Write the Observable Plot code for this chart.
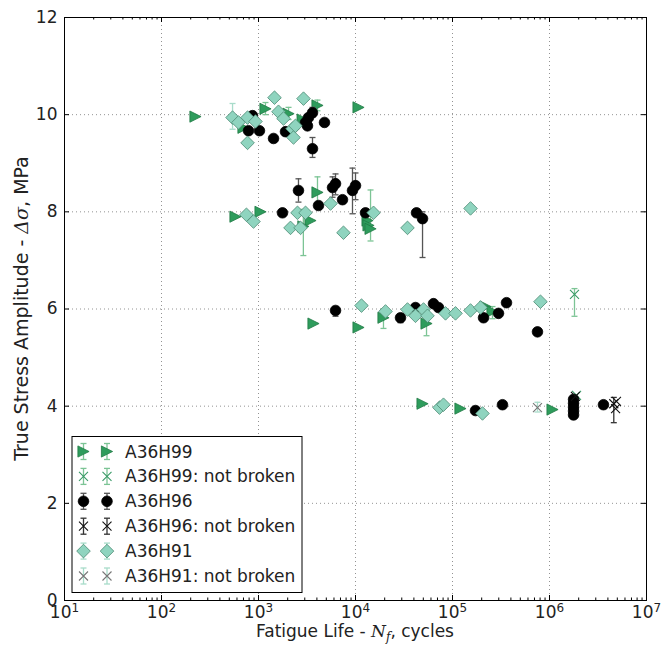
<!DOCTYPE html>
<html><head><meta charset="utf-8">
<script src="https://cdn.jsdelivr.net/npm/d3@7"></script>
<script src="https://cdn.jsdelivr.net/npm/@observablehq/plot@0.6"></script>
<style>body{margin:0;background:#fff;} #chart{position:absolute;left:0;top:0;}</style>
</head><body><div id="chart"></div>
<script>
// ---- data: [cycles N, stress amplitude, errLow, errHigh] ----
const h99 = [
  [224, 9.96], [1180, 10.12, 10.0, 10.25], [4056, 10.19, 10.08, 10.3], [10740, 10.15],
  [2040, 10.02, 9.9, 10.15], [2850, 9.9], [700, 9.73],
  [579, 7.90], [1049, 8.0], [4056, 8.40, 8.1, 8.72], [3435, 7.82], [2900, 7.7, 7.1, 8.05],
  [13300, 7.82], [13620, 7.72], [14290, 7.65, 7.4, 8.45],
  [3690, 5.70], [10740, 5.62], [19430, 5.82, 5.6, 6.0], [53970, 5.70, 5.45, 5.9],
  [219000, 6.05], [258400, 5.95, 5.8, 6.05],
  [49100, 4.05], [120800, 3.95], [1074000, 3.93]
];
const h99NotBroken = [
  [1810000, 6.30, 5.85, 6.42], [1900000, 4.22]
];
const h96 = [
  [867, 9.98], [789, 9.67], [1023, 9.67], [1429, 9.51], [1898, 9.65], [3053, 9.84],
  [3276, 9.94], [3603, 10.04, 9.95, 10.15], [3198, 9.77], [4790, 9.84], [3603, 9.30, 9.12, 9.53],
  [1767, 7.98], [2583, 8.44, 8.2, 8.68], [4155, 8.13], [5796, 8.50, 8.3, 8.72],
  [6224, 8.58, 8.35, 8.78], [7345, 8.25], [9311, 8.44, 7.96, 8.9], [10000, 8.54, 8.25, 8.8],
  [12680, 7.98], [42560, 7.98], [49100, 7.86, 7.06, 8.0],
  [6224, 5.97, 5.85, 6.05], [29100, 5.82, 5.72, 5.9], [41540, 6.03], [63680, 6.11],
  [71740, 6.03], [208900, 5.82], [298000, 5.91], [360300, 6.13], [751700, 5.53],
  [172600, 3.91], [327600, 4.03], [1770000, 3.82], [1770000, 3.90], [1770000, 3.98],
  [1770000, 4.06], [1770000, 4.14], [3600000, 4.03]
];
const h96NotBroken = [
  [1850000, 4.20], [4600000, 4.05, 3.66, 4.18], [4800000, 3.95], [4900000, 4.10]
];
const h91 = [
  [540, 9.94, 9.7, 10.23], [622, 9.84], [771, 9.94], [931, 9.86], [771, 9.42], [1462, 10.35],
  [1607, 10.06], [1811, 9.92], [2243, 9.71], [2296, 9.53], [2911, 10.33], [2405, 9.77],
  [751, 7.94], [888, 7.80], [2137, 7.67], [2523, 7.98], [3053, 7.98], [2713, 7.67],
  [5525, 8.17], [7516, 7.57], [15340, 7.98], [34360, 7.67], [153400, 8.07],
  [11530, 6.07], [20380, 5.95], [34360, 5.99], [41540, 5.86], [50260, 5.99], [55250, 5.86],
  [84730, 5.91], [107400, 5.91], [153400, 5.97], [194600, 6.03], [807000, 6.15],
  [73470, 3.97], [80750, 4.03], [203800, 3.85]
];
const h91NotBroken = [
  [751700, 3.97, 3.88, 4.08]
];
const seriesLabels = ["A36H99", "A36H99: not broken", "A36H96", "A36H96: not broken", "A36H91", "A36H91: not broken"];
const xTicks = [1e1, 1e2, 1e3, 1e4, 1e5, 1e6, 1e7];
const yTicks = [0, 2, 4, 6, 8, 10, 12];

// ---- symbols ----
const rad = s => Math.sqrt(s / Math.PI);
const triRight = {draw(c, s) { const r = rad(s); c.moveTo(r, 0); c.lineTo(-r, r); c.lineTo(-r, -r); c.closePath(); }};
const diamond = {draw(c, s) { const r = rad(s); c.moveTo(0, -r); c.lineTo(r, 0); c.lineTo(0, r); c.lineTo(-r, 0); c.closePath(); }};
const cross = {draw(c, s) { const r = rad(s); c.moveTo(-r, -r); c.lineTo(r, r); c.moveTo(-r, r); c.lineTo(r, -r); }};
const cap = {draw(c, s) { const r = rad(s); c.moveTo(-r, 0); c.lineTo(r, 0); }};

const rows = a => a.map(([N, S, lo, hi]) => ({N, S, lo, hi}));
const styles = [
  {data: rows(h99), symbol: triRight, r: 5.6, fill: "#2e9c5c", stroke: "#217a45", err: "#7cc495"},
  {data: rows(h99NotBroken), symbol: cross, r: 4.5, fill: "none", stroke: "#3a9a68", err: "#7cc495"},
  {data: rows(h96), symbol: "circle", r: 5.3, fill: "black", stroke: "black", err: "#555"},
  {data: rows(h96NotBroken), symbol: cross, r: 4.5, fill: "none", stroke: "#111", err: "#333"},
  {data: rows(h91), symbol: diamond, r: 6.8, fill: "#8fd4bf", stroke: "#4c8a74", err: "#a8dcca"},
  {data: rows(h91NotBroken), symbol: cross, r: 4.5, fill: "none", stroke: "#777", err: "#a8dcca"}
];

const W = 667, H = 649, mL = 64, mR = 21, mT = 17, mB = 49;
const pw = W - mL - mR, ph = H - mT - mB;
const xMinor = d3.range(1, 7).flatMap(k => d3.range(2, 10).map(m => m * 10 ** k));

const marks = [
  Plot.gridX(xTicks.slice(1, -1), {stroke: "#777", strokeOpacity: 1, strokeWidth: 0.8, strokeDasharray: "1,3"}),
  Plot.gridY(yTicks.slice(1, -1), {stroke: "#777", strokeOpacity: 1, strokeWidth: 0.8, strokeDasharray: "1,3"})
];
for (const s of styles) {
  const e = s.data.filter(d => d.lo != null);
  marks.push(
    Plot.ruleX(e, {x: "N", y1: "lo", y2: "hi", stroke: s.err, strokeWidth: 1.3}),
    Plot.dot(e, {x: "N", y: "lo", symbol: cap, r: 3, fill: "none", stroke: s.err, strokeWidth: 1.3}),
    Plot.dot(e, {x: "N", y: "hi", symbol: cap, r: 3, fill: "none", stroke: s.err, strokeWidth: 1.3}),
    Plot.dot(s.data, {x: "N", y: "S", symbol: s.symbol, r: s.r, fill: s.fill, stroke: s.stroke,
      strokeWidth: s.fill === "none" ? 1.1 : 0.8})
  );
}
marks.push(
  Plot.tickX(xTicks, {x: d => d, insetTop: ph - 5, stroke: "black"}),
  Plot.tickX(xTicks, {x: d => d, insetBottom: ph - 5, stroke: "black"}),
  Plot.tickX(xMinor, {x: d => d, insetTop: ph - 2.5, stroke: "black"}),
  Plot.tickX(xMinor, {x: d => d, insetBottom: ph - 2.5, stroke: "black"}),
  Plot.tickY(yTicks, {y: d => d, insetRight: pw - 5, stroke: "black"}),
  Plot.tickY(yTicks, {y: d => d, insetLeft: pw - 5, stroke: "black"}),
  Plot.frame({stroke: "black", strokeWidth: 1}),
  Plot.axisX({ticks: xTicks, tickSize: 0, tickPadding: 5, fontSize: 17, label: null,
    tickFormat: d => `10^${Math.round(Math.log10(d))}`}),
  Plot.axisY({ticks: yTicks, tickSize: 0, tickPadding: 7, fontSize: 17, label: null})
);

const svgEl = Plot.plot({
  width: W, height: H, marginLeft: mL, marginRight: mR, marginTop: mT, marginBottom: mB,
  x: {type: "log", domain: [1e1, 1e7]},
  y: {domain: [0, 12]},
  style: {fontFamily: "DejaVu Sans", fontSize: "17px", color: "#222", background: "white", overflow: "visible"},
  marks
});
document.getElementById("chart").appendChild(svgEl);
const svg = d3.select(svgEl);

// superscript exponents on x tick labels
svg.selectAll("g[aria-label='x-axis tick label'] text").each(function() {
  const t = this.textContent;
  if (!t.includes("^")) return;
  const [b, e] = t.split("^");
  const sel = d3.select(this);
  sel.selectAll("*").remove();
  sel.text(null);
  sel.append("tspan").text(b);
  sel.append("tspan").attr("dy", "-0.45em").attr("font-size", "12px").text(e);
});

// axis labels
const xl = svg.append("text").attr("x", mL + pw / 2).attr("y", 637).attr("text-anchor", "middle")
  .attr("font-family", "DejaVu Sans").attr("font-size", 17).attr("fill", "#222");
xl.append("tspan").text("Fatigue Life - ");
xl.append("tspan").attr("font-family", "DejaVu Serif").attr("font-style", "italic").text("N");
xl.append("tspan").attr("font-family", "DejaVu Serif").attr("font-style", "italic").attr("font-size", 12).attr("dy", 4).text("f");
xl.append("tspan").attr("dy", -4).text(", cycles");

const yl = svg.append("text").attr("transform", `translate(28,${mT + ph / 2}) rotate(-90)`).attr("text-anchor", "middle")
  .attr("font-family", "DejaVu Sans").attr("font-size", 19).attr("fill", "#222");
yl.append("tspan").text("True Stress Amplitude - ");
yl.append("tspan").attr("font-family", "DejaVu Serif").attr("font-style", "italic").text("Δσ");
yl.append("tspan").text(", MPa");

// legend
const lg = svg.append("g").attr("text-anchor", "start");
lg.append("rect").attr("x", 72).attr("y", 436.5).attr("width", 230).attr("height", 156)
  .attr("fill", "white").attr("stroke", "black").attr("stroke-width", 1);
seriesLabels.forEach((lab, i) => {
  const s = styles[i];
  const y = 451.5 + i * 24.9;
  for (const x of [83.5, 107]) {
    lg.append("line").attr("x1", x).attr("x2", x).attr("y1", y - 8).attr("y2", y + 8).attr("stroke", s.err).attr("stroke-width", 1.3);
    for (const yy of [y - 8, y + 8])
      lg.append("line").attr("x1", x - 3).attr("x2", x + 3).attr("y1", yy).attr("y2", yy).attr("stroke", s.err).attr("stroke-width", 1.3);
    const type = s.symbol === "circle" ? d3.symbolCircle : s.symbol;
    lg.append("path").attr("transform", `translate(${x},${y})`)
      .attr("d", d3.symbol(type, Math.PI * s.r * s.r)())
      .attr("fill", s.fill).attr("stroke", s.stroke).attr("stroke-width", s.fill === "none" ? 1.1 : 0.8);
  }
  lg.append("text").attr("x", 125).attr("y", y + 6).attr("text-anchor", "start").attr("font-family", "DejaVu Sans")
    .attr("font-size", 17).attr("fill", "#222").text(lab);
});
</script>
</body></html>
